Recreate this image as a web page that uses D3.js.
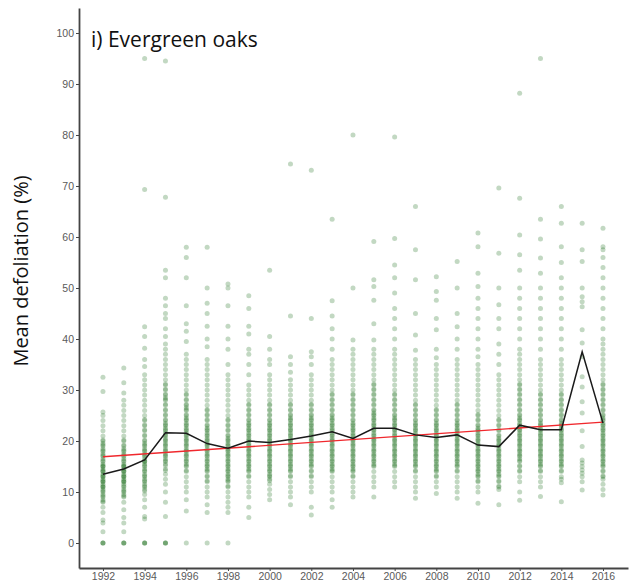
<!DOCTYPE html>
<html lang="en">
<head>
    <meta charset="UTF-8">
    <title>Evergreen oaks defoliation</title>
    <script src="https://d3js.org/d3.v7.min.js"></script>
    <style>
        body { margin: 0; background: #fff; }
        .tick text { font-family: "Liberation Sans", Arial, sans-serif; font-size: 10.5px; fill: #5a5a5a; }
        .tick line { stroke: #444; }
        .domain { stroke: #444; stroke-width: 1.8px; }
    </style>
</head>
<body>
    <div id="chart"></div>
    <script>
        const years = d3.range(1992, 2017);
        const meanDefoliation = [13.5, 14.5, 16.3, 21.6, 21.5, 19.5, 18.6, 20.0, 19.7, 20.3, 21.0, 21.8,
            20.5, 22.5, 22.5, 21.2, 20.7, 21.2, 19.2, 18.9, 23.1, 22.2, 22.2, 37.5, 23.5];
        const trendYears = [1992, 2016];
        const trendValues = [16.9, 23.7];
        const yTicks = [0, 10, 20, 30, 40, 50, 60, 70, 80, 90, 100];
        const xTicks = [1992, 1994, 1996, 1998, 2000, 2002, 2004, 2006, 2008, 2010, 2012, 2014, 2016];

        // plot-level values, one list per year
        const plotValues = [
            [0,0,0,2.2,3.9,4.5,6,7,8,8.5,9,9.5,10,10.5,11,11,11.5,12,12,12.5,13,13,13.5,14,14,14.5,15,15,15.5,16,16.5,17,17.5,18,18.5,19,19.5,20,21,22,23,24,25,25.7,29.7,32.5],
            [0,0,0,2.2,3.9,5,6.5,8,9,9.5,10,10.5,11,11.5,12,12,12.5,13,13,13.5,14,14,14.5,15,15,15.5,16,16.5,17,17.5,18,18.5,19,20,21,22,23,24,25,26,27,28,29.4,31.4,34.3],
            [0,0,0,4.7,5.2,7,8.5,9.5,10.5,11,11.5,12,12.5,13,13.5,14,14.5,15,15.5,16,16,16.5,17,17.5,18,18.5,19,19.5,20,21,22,23,24,25,26,27,28,29,30,31,32,33,34.6,36,38.2,40.5,42.4,69.3,95],
            [0,0,0,5.2,8,10,11.5,12.5,13.5,14.5,15.5,16,16.5,17,17.5,18,18.5,19,19.5,20,20.5,21,21.5,22,22.5,23,23.5,24,25,26,27,28,28.5,29,30,31,32,33,34,35,36,37,38,39,40.5,42,44,45,46.5,48,52,53.5,67.8,94.5],
            [0,6.3,8.5,10,11,12,13,14,15,15.5,16,16.5,17,17.5,18,18.5,19,19.5,20,20.5,21,21.5,22,22.5,23,23.5,24,24.5,25,26,26.5,27,28,29,30,31,32,33,34,35,36,37,39.5,41.5,43,46.5,52,56,58],
            [0,6,7.5,9,10,11,12,13,14,14.5,15,15.5,16,16.5,17,17.5,18,18.5,19,19.5,20,20.5,21,21.5,22,22.5,23,24,25,26,27,28,29,30,31,32,33,34,35,36,38.5,40,42.5,45,47,50,58],
            [0,6,7,8,9,10,11,12,12.5,13,13.5,14,14.5,15,15.5,16,16.5,17,17.5,18,18.5,19,19.5,20,20.5,21,22,23,24,25,26,27,28,29,30,31,32,33,35,38,40,42.5,46.5,50,50.8],
            [5,7,9,10,11,12,13,14,14.5,15,15.5,16,16.5,17,17.5,18,18.5,19,19.5,20,20.5,21,21.5,22,22.5,23,23.5,24,25,26,27,28,29,30,31,33,35,37,38,41,42.5,46,48.5],
            [8.5,9.5,10.5,11.5,12.5,13,13.5,14,14.5,15,15.5,16,16.5,17,17.5,18,18.5,19,19.5,20,20.5,21,21.5,22,22.5,23,23.5,24,25,26,27,28,29,30,31,32,33,35,36,38,40.5,53.5],
            [7.5,9,10,11,12,13,14,14.5,15,15.5,16,16.5,17,17.5,18,18.5,19,19.5,20,20.5,21,21.5,22,22.5,23,23.5,24,24.5,25,26,27,28,29,30,31,32,33.5,35,36.5,44.5,74.3],
            [5.5,7,10,11,12,13,14,15,15.5,16,16.5,17,17.5,18,18.5,19,19.5,20,20.5,21,21.5,22,22.5,23,23.5,24,24.5,25,26,27,28,29,30,31,32,33,35,36.5,37.5,44,73.1],
            [7,8.5,10,11,12,13,14,14.5,15,15.5,16,16.5,17,17.5,18,18.5,19,19.5,20,20.5,21,21.5,22,22.5,23,23.5,24,24.5,25,26,27,28,29,30,31,32,33,34,35,36,38,40,42,44.5,47.5,63.5],
            [9,10,11,12,13,14,14.5,15,15.5,16,16.5,17,17.5,18,18.5,19,19.5,20,20.5,21,21.5,22,22.5,23,23.5,24,25,26,27,28,29,30,31,32,33,34,35,36,37,38,39.8,50,80],
            [9,11,12,13,14,15,15.5,16,16.5,17,17.5,18,18.5,19,19.5,20,20.5,21,21.5,22,22.5,23,23.5,24,24.5,25,25.5,26,27,28,29,30,31,32,33,34,35,36,37,38,39.8,43,47.6,50.3,51.6,59.1],
            [11,12,13,14,15,15.5,16,16.5,17,17.5,18,18.5,19,19.5,20,20.5,21,21.5,22,22.5,23,23.5,24,24.5,25,26,27,28,29,30,31,32,33,34,35,36,37,38,40,42,44,46,49,52,54.5,59.7,79.6],
            [8.8,10,11,12,13,14,15,15.5,16,16.5,17,17.5,18,18.5,19,19.5,20,20.5,21,21.5,22,22.5,23,23.5,24,25,26,27,28,29,30,31,32,33,34,35,36,37.8,40.8,45,51.6,57.5,66],
            [9.7,11,12,13,14,14.5,15,15.5,16,16.5,17,17.5,18,18.5,19,19.5,20,20.5,21,21.5,22,22.5,23,23.5,24,25,26,27,28,29,30,31,32,33,34,35,36.3,38,41.8,44,47.6,49.3,52.2],
            [8.8,10,11,12,13,14,15,15.5,16,16.5,17,17.5,18,18.5,19,19.5,20,20.5,21,21.5,22,22.5,23,23.5,24,25,26,27,28,29,30,31,32,33,34,35,36,38,40,42.4,45,50,55.2],
            [7.8,10,11,12,13,13.5,14,14.5,15,15.5,16,16.5,17,17.5,18,18.5,19,19.5,20,20.5,21,21.5,22,22.5,23,24,25,26,27,28,29,30,31,32,33,34,35,36.5,38,40,42,44,46,48,50.3,52.9,58.1,60.8],
            [7.5,10.5,11,12,13,13.5,14,14.5,15,15.5,16,16.5,17,17.5,18,18.5,19,19.5,20,20.5,21,22,23,24,25,26,27,28,29,30,31,32,33,35,37,39,42,44,46.7,50,56.8,69.6],
            [8.4,10,12,13,14,15,16,16.5,17,17.5,18,18.5,19,19.5,20,20.5,21,21.5,22,22.5,23,23.5,24,24.5,25,26,27,28,29,30,31,32,33,34,35,36,37,38,40,42,44,46,48,50,53.5,56.5,60.4,67.6,88.2],
            [9.1,11,12,13,14,15,15.5,16,16.5,17,17.5,18,18.5,19,19.5,20,20.5,21,21.5,22,22.5,23,23.5,24,25,26,27,28,29,30,31,32,33,34,35,36,38,40,42,44,46,48,50,52.9,55.9,59.6,63.5,95],
            [8.1,11.8,12.5,13,14,15,15.5,16,16.5,17,17.5,18,18.5,19,19.5,20,20.5,21,21.5,22,22.5,23,23.5,24,25,26,27,28,29,30,31,32,33,34,35,36,38,40,42,44,46,48,50,52,55,58.1,62.7,66],
            [10.4,12,13,13.7,14.3,15,15.7,16.3,18.9,22,25.5,27.7,30.6,32.6,36.5,39.2,41.8,46.3,47.3,48.3,50,55.2,57.5,62.7],
            [9.4,10.5,11.5,12.5,13,14,15,15.5,16,16.5,17,17.5,18,18.5,19,19.5,20,20.5,21,21.5,22,22.5,23,23.5,24,24.5,25,26,27,28,29,30,31,32,33,34,35,36,37,38,39,40,42,44,46,48,50,52,54,56,57.5,58.1,61.7]
        ];

        // extra plots in the crowded middle of each year (where the dots pile up darkest)
        const corePlotValues = [
            [8.2,9.2,10.2,11.2,12.2,13.2,14.2,15.2,16.2,17.2,18.2,19.2,20.2],
            [9.2,10.2,11.2,12.2,13.2,14.2,15.2,16.2,17.2,18.2,19.2,20.2],
            [10.2,11.2,12.2,13.2,14.2,15.2,16.2,17.2,18.2,19.2,20.2,21.2,22.2,23.2,24.2],
            [14.2,15.2,16.2,17.2,18.2,19.2,20.2,21.2,22.2,23.2,24.2,25.2,26.2,27.2,28.2,29.2,30.2,31.2],
            [14.2,15.2,16.2,17.2,18.2,19.2,20.2,21.2,22.2,23.2,24.2,25.2,26.2,27.2,28.2,29.2],
            [12.2,13.2,14.2,15.2,16.2,17.2,18.2,19.2,20.2,21.2,22.2,23.2,24.2,25.2,26.2],
            [11.2,12.2,13.2,14.2,15.2,16.2,17.2,18.2,19.2,20.2,21.2,22.2,23.2,24.2],
            [13.2,14.2,15.2,16.2,17.2,18.2,19.2,20.2,21.2,22.2,23.2,24.2,25.2,26.2,27.2],
            [12.2,13.2,14.2,15.2,16.2,17.2,18.2,19.2,20.2,21.2,22.2,23.2,24.2,25.2,26.2,27.2],
            [13.2,14.2,15.2,16.2,17.2,18.2,19.2,20.2,21.2,22.2,23.2,24.2,25.2,26.2,27.2],
            [13.2,14.2,15.2,16.2,17.2,18.2,19.2,20.2,21.2,22.2,23.2,24.2,25.2,26.2,27.2],
            [14.2,15.2,16.2,17.2,18.2,19.2,20.2,21.2,22.2,23.2,24.2,25.2,26.2,27.2,28.2,29.2],
            [13.2,14.2,15.2,16.2,17.2,18.2,19.2,20.2,21.2,22.2,23.2,24.2,25.2,26.2,27.2,28.2,29.2],
            [15.2,16.2,17.2,18.2,19.2,20.2,21.2,22.2,23.2,24.2,25.2,26.2,27.2,28.2,29.2,30.2,31.2],
            [15.2,16.2,17.2,18.2,19.2,20.2,21.2,22.2,23.2,24.2,25.2,26.2,27.2,28.2,29.2],
            [14.2,15.2,16.2,17.2,18.2,19.2,20.2,21.2,22.2,23.2,24.2,25.2,26.2,27.2],
            [13.2,14.2,15.2,16.2,17.2,18.2,19.2,20.2,21.2,22.2,23.2,24.2,25.2,26.2],
            [14.2,15.2,16.2,17.2,18.2,19.2,20.2,21.2,22.2,23.2,24.2,25.2,26.2,27.2],
            [12.2,13.2,14.2,15.2,16.2,17.2,18.2,19.2,20.2,21.2,22.2,23.2,24.2,25.2],
            [11.2,12.2,13.2,14.2,15.2,16.2,17.2,18.2,19.2,20.2,21.2,22.2,23.2,24.2],
            [14.2,15.2,16.2,17.2,18.2,19.2,20.2,21.2,22.2,23.2,24.2,25.2,26.2,27.2,28.2,29.2,30.2,31.2],
            [14.2,15.2,16.2,17.2,18.2,19.2,20.2,21.2,22.2,23.2,24.2,25.2,26.2,27.2,28.2,29.2],
            [14.2,15.2,16.2,17.2,18.2,19.2,20.2,21.2,22.2,23.2,24.2,25.2,26.2,27.2,28.2,29.2],
            [],
            [13.2,14.2,15.2,16.2,17.2,18.2,19.2,20.2,21.2,22.2,23.2,24.2,25.2,26.2,27.2,28.2,29.2,30.2,31.2]
        ];

        const W = 629, H = 588;
        const margin = { top: 8, right: 1, bottom: 20, left: 79 };

        const svg = d3.select('#chart').append('svg')
            .attr('width', W)
            .attr('height', H);

        const x = d3.scaleLinear()
            .domain([1990.85, 2017.2])
            .range([margin.left, W - margin.right]);

        const y = d3.scaleLinear()
            .domain([-4.9, 104.9])
            .range([H - margin.bottom, margin.top]);

        const points = [];
        plotValues.forEach((vals, i) => vals.forEach(v => points.push({ year: years[i], v })));
        corePlotValues.forEach((vals, i) => vals.forEach(v => points.push({ year: years[i], v })));

        svg.append('g')
            .selectAll('circle')
            .data(points)
            .join('circle')
            .attr('cx', d => x(d.year))
            .attr('cy', d => y(d.v))
            .attr('r', 2.5)
            .attr('fill', '#0b620b')
            .attr('fill-opacity', 0.25);

        // fitted trend
        svg.append('path')
            .datum(trendYears.map((yr, i) => [yr, trendValues[i]]))
            .attr('fill', 'none')
            .attr('stroke', '#f0282d')
            .attr('stroke-width', 1.4)
            .attr('d', d3.line().x(d => x(d[0])).y(d => y(d[1])));

        // yearly mean
        svg.append('path')
            .datum(years.map((yr, i) => [yr, meanDefoliation[i]]))
            .attr('fill', 'none')
            .attr('stroke', '#1a1a1a')
            .attr('stroke-width', 1.5)
            .attr('d', d3.line().x(d => x(d[0])).y(d => y(d[1])));

        svg.append('g')
            .attr('transform', `translate(${margin.left},0)`)
            .call(d3.axisLeft(y).tickValues(yTicks).tickSize(3).tickPadding(2).tickSizeOuter(0));

        svg.append('g')
            .attr('transform', `translate(0,${H - margin.bottom})`)
            .call(d3.axisBottom(x).tickValues(xTicks).tickFormat(d3.format('d')).tickSize(3).tickPadding(2).tickSizeOuter(0));

        svg.append('text')
            .attr('x', 91)
            .attr('y', 47)
            .attr('font-family', '"Open Sans", sans-serif')
            .attr('font-size', 21)
            .attr('fill', '#111')
            .text('i) Evergreen oaks');

        svg.append('text')
            .attr('transform', `translate(28,271) rotate(-90)`)
            .attr('text-anchor', 'middle')
            .attr('font-family', '"Open Sans", sans-serif')
            .attr('font-size', 20)
            .attr('fill', '#111')
            .text('Mean defoliation (%)');
    </script>
</body>
</html>
